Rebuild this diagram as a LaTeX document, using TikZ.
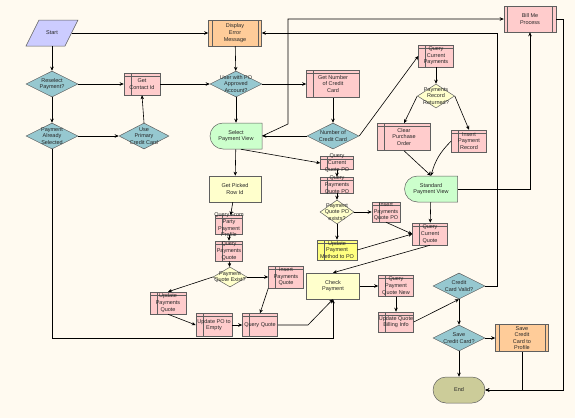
\documentclass[tikz,border=0pt]{standalone}
\usepackage{fontspec}
\setmainfont{Liberation Sans}
\usetikzlibrary{shapes.geometric,shapes.misc,arrows.meta,calc}

\definecolor{bgc}{RGB}{255,250,240}
\definecolor{startc}{RGB}{204,204,255}
\definecolor{decc}{RGB}{150,200,208}
\definecolor{taskc}{RGB}{255,204,204}
\definecolor{subc}{RGB}{255,204,153}
\definecolor{viewc}{RGB}{204,255,204}
\definecolor{ylwc}{RGB}{255,255,204}
\definecolor{pmc}{RGB}{255,255,128}
\definecolor{endc}{RGB}{204,204,153}
\definecolor{edgec}{RGB}{95,95,95}

\tikzset{
  txt/.style={font=\fontsize{5.5}{6.6}\selectfont, align=center, inner sep=0pt, text=black!85},
  sz/.style 2 args={minimum width=#1pt, minimum height=#2pt},
  base/.style={draw=edgec, line width=0.5pt, inner sep=0pt, label={[txt]center:#1}},
  dec/.style={base=#1, diamond, aspect=2, fill=decc},
  ydec/.style={base=#1, diamond, aspect=2, fill=ylwc},
  task/.style={base=#1, rectangle, fill=taskc,
    path picture={\draw[edgec, line width=0.4pt]
      ([xshift=7pt]path picture bounding box.north west) -- ([xshift=7pt]path picture bounding box.south west)
      ([yshift=-3pt]path picture bounding box.north west) -- ([yshift=-3pt]path picture bounding box.north east);}},
  subproc/.style={base=#1, rectangle, fill=subc,
    path picture={\draw[edgec, line width=0.4pt]
      ([xshift=3.5pt]path picture bounding box.north west) -- ([xshift=3.5pt]path picture bounding box.south west)
      ([xshift=-3.5pt]path picture bounding box.north east) -- ([xshift=-3.5pt]path picture bounding box.south east);}},
  viewbox/.style={base=#1, rounded rectangle, rounded rectangle right arc=none, fill=viewc},
  plainbox/.style={base=#1, rectangle, fill=ylwc},
  endbox/.style={base=#1, rounded rectangle, fill=endc},
  flow/.style={draw, line width=0.6pt, -{Stealth[length=4pt,width=3.5pt]}},
}

\begin{document}
\begin{tikzpicture}[x=1pt,y=-1pt]
  \useasboundingbox (0,0) rectangle (575,418);
  \fill[bgc] (0,0) rectangle (575,418);

  % left and top part
  \filldraw[fill=startc, draw=edgec, line width=0.5pt] (39,20) -- (78,20) -- (65,46) -- (26,46) -- cycle;
  \node[txt, sz={39}{26}] (start) at (52,33) {Start};
  \node[subproc={Display\\Error\\Message}, sz={53}{26}] (dispErr) at (235,33) {};
  \node[subproc={Bill Me\\Process}, fill=taskc, sz={52}{26}] (billMe) at (530,19) {};
  \node[dec={Reselect\\Payment?}, sz={52}{26}] (resel) at (52,84) {};
  \node[task={Get\\Contact Id}, sz={36}{22}] (getContact) at (142,84) {};
  \node[dec={User with PO\\Approved\\Account?}, sz={52}{26}] (userPO) at (236,84) {};
  \node[task={Get Number\\of Credit\\Card}, sz={53}{27}] (getNum) at (333,84) {};
  \node[dec={Payment\\Already\\Selected}, sz={52}{26}] (paySel) at (52,136) {};
  \node[dec={Use\\Primary\\Credit Card}, sz={50}{26}] (usePrim) at (144,136) {};
  \node[viewbox={Select\\Payment View}, sz={52}{26}] (selView) at (236,136) {};
  \node[dec={Number of\\Credit Card}, sz={52}{26}] (numCC) at (333,136) {};

  % payments branch
  \node[task={Query\\Current\\Payments}, sz={35}{22}] (qCurPay) at (436,56) {};
  \node[ydec={Payments\\Record\\Returned?}, sz={37}{24}] (payRec) at (436,96) {};
  \node[task={Clear\\Purchase\\Order}, sz={53}{27}] (clearPO) at (404,137) {};
  \node[task={Insert\\Payment\\Record}, sz={35}{22}] (insPayRec) at (469,141) {};
  \node[viewbox={Standard\\Payment View}, sz={53}{26}] (stdView) at (431,189) {};

  % PO branch
  \node[task={Query\\Current\\Quote PO}, sz={33}{13}] (qCurQPO) at (337,163) {};
  \node[task={Query\\Payments\\Quote PO}, sz={33}{16}] (qPayQPO) at (337,185) {};
  \node[ydec={Payment\\Quote PO\\exists?}, sz={34}{24}] (payQPOex) at (337,212) {};
  \node[task={Insert\\Payments\\Quote PO}, sz={28}{20}] (insPQPO) at (386,212) {};
  \node[task={Update\\Payment\\Method to PO}, fill=pmc, sz={40}{20}] (updPM) at (337,250) {};
  \node[task={Query\\Current\\Quote}, sz={35}{22}] (qCurQ) at (430,234) {};

  % quote branch
  \node[plainbox={Get Picked\\Row Id}, sz={52}{26}] (getPicked) at (235,189) {};
  \node[task={Query From\\Party\\Payment\\Profile}, sz={27}{19}] (qParty) at (229,225) {};
  \node[task={Query\\Payments\\Quote}, sz={27}{20}] (qPayQ) at (229,251) {};
  \node[ydec={Payment\\Quote Exist?}, sz={34}{20}] (payQex) at (230,277) {};
  \node[task={Insert\\Payments\\Quote}, sz={35}{22}] (insPQ) at (286,277) {};
  \node[task={Update\\Payments\\Quote}, sz={36}{22}] (updPQ) at (168,303) {};
  \node[task={Update PO to\\Empty}, sz={36}{23}] (updPOEmpty) at (214,325) {};
  \node[task={Query Quote}, sz={35}{23}] (qQuote) at (260,325) {};

  % check and end
  \node[plainbox={Check\\Payment}, sz={53}{26}] (checkPay) at (333,286) {};
  \node[task={Query\\Payment\\Quote New}, sz={35}{21}] (qPQNew) at (396,286) {};
  \node[task={Update Quote\\Billing Info}, sz={35}{20}] (updBill) at (396,322) {};
  \node[dec={Credit\\Card Valid?}, sz={52}{26}] (ccValid) at (459,286) {};
  \node[dec={Save\\Credit Card?}, sz={52}{26}] (saveCC) at (459,338) {};
  \node[subproc={Save\\Credit\\Card to\\Profile}, sz={53}{27}] (saveCCProf) at (522,338) {};
  \node[endbox=End, sz={52}{26}] (theEnd) at (459,390) {};

  % connectors
  \draw[flow] (start.east) -- (dispErr.west);
  \draw[flow] (start.south) -- (resel);
  \draw[flow] (resel) -- (getContact);
  \draw[flow] (getContact) -- (userPO);
  \draw[flow] (resel) -- (paySel);
  \draw[flow] (paySel) -- (usePrim);
  \draw[flow] (usePrim.north) -- (getContact.south);
  \draw[flow] (paySel.south) -- (52,338) -| (checkPay.south);
  \draw[flow] (dispErr) -- (userPO);
  \draw[flow] (userPO) -- (getNum);
  \draw[flow] (userPO) -- (selView);
  \draw[flow] (getNum) -- (numCC);
  \draw[flow] (numCC) -- (selView);
  \draw[flow] (numCC.east) -- (qCurPay.west);
  \draw[flow] (selView.east) -- (288,124) |- (billMe.west);
  \draw[flow] (ccValid.east) -| (497,33) -- (dispErr.east);
  \draw[flow] (billMe.east) -| (563,390) -- (theEnd.east);
  \draw[flow] (saveCCProf.south) |- (theEnd.east);
  \draw[flow] (stdView.east) -| (billMe.south);
  \draw[flow] (qCurPay) -- (payRec);
  \draw[flow] (payRec.west) -- (clearPO.north);
  \draw[flow] (payRec.east) -- (insPayRec.north);
  \draw[flow] (clearPO.south) -- (stdView.north);
  \draw[flow] (insPayRec.west) to[bend right=15] (stdView.north);
  \draw[flow] (stdView) -- (qCurQ);
  \draw[flow] (selView) -- (getPicked);
  \draw[flow] (selView.-70) -- (qCurQPO.west);
  \draw[flow] (qCurQPO) -- (qPayQPO);
  \draw[flow] (qPayQPO) -- (payQPOex);
  \draw[flow] (payQPOex) -- (insPQPO);
  \draw[flow] (payQPOex) -- (updPM);
  \draw[flow] (insPQPO.south) -- (qCurQ.west);
  \draw[flow] (updPM.east) -- (qCurQ.west);
  \draw[flow] (qCurQ.south) -- (checkPay.north);
  \draw[flow] (getPicked) -- (qParty);
  \draw[flow] (qParty) -- (qPayQ);
  \draw[flow] (qPayQ) -- (payQex);
  \draw[flow] (payQex.west) -- (updPQ.north);
  \draw[flow] (payQex) -- (insPQ);
  \draw[flow] (insPQ.south west) -- (qQuote.north);
  \draw[flow] (updPQ.south) -- (updPOEmpty.west);
  \draw[flow] (updPOEmpty) -- (qQuote);
  \draw[flow] (qQuote.east) -- (308,325) -- (checkPay.south);
  \draw[flow] (checkPay) -- (qPQNew);
  \draw[flow] (qPQNew) -- (updBill);
  \draw[flow] (updBill.east) -- (ccValid.south);
  \draw[flow] (ccValid) -- (saveCC);
  \draw[flow] (saveCC) -- (saveCCProf);
  \draw[flow] (saveCC) -- (theEnd);
\end{tikzpicture}
\end{document}
